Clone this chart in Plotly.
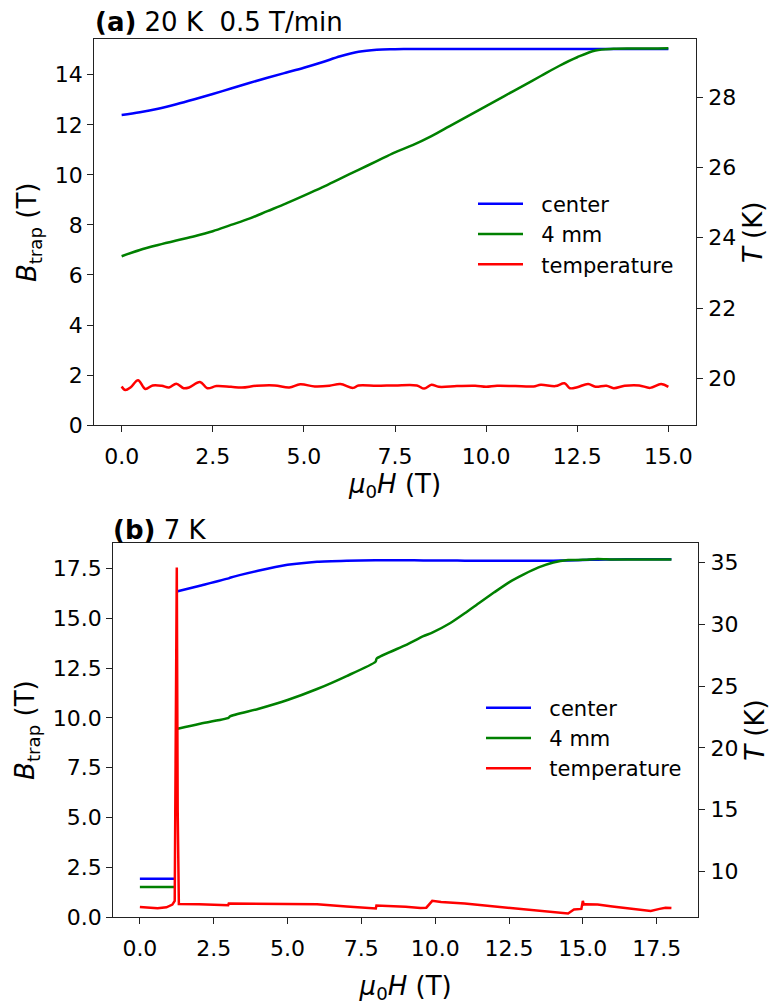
import plotly.graph_objects as go

# ---------------- Panel (a): 20 K, 0.5 T/min ----------------
a_field = [0, 0.5, 1, 1.5, 2, 2.5, 3, 3.5, 4, 4.5, 5, 5.5, 6, 6.5, 7, 7.5, 8, 8.5, 9,
           9.5, 10, 10.5, 11, 11.5, 12, 12.5, 13, 13.5, 14, 14.5, 15]
a_center = [12.39, 12.5, 12.64, 12.82, 13.02, 13.23, 13.45, 13.67, 13.88, 14.08, 14.28,
            14.5, 14.74, 14.92, 15.0, 15.02, 15.03, 15.03, 15.03, 15.03, 15.03, 15.03,
            15.03, 15.03, 15.03, 15.03, 15.03, 15.03, 15.03, 15.03, 15.03]
a_4mm = [6.75, 7.0, 7.2, 7.38, 7.55, 7.75, 8.0, 8.25, 8.55, 8.85, 9.17, 9.5, 9.85, 10.2,
         10.55, 10.9, 11.2, 11.55, 11.95, 12.35, 12.75, 13.15, 13.55, 13.95, 14.35, 14.7,
         14.97, 15.04, 15.05, 15.05, 15.06]
a_temp_field = [0, 0.1, 0.25, 0.45, 0.65, 0.85, 1.1, 1.3, 1.5, 1.7, 1.85, 2.15, 2.35, 2.6,
                3.0, 3.3, 3.7, 4.2, 4.6, 4.9, 5.3, 5.7, 6.0, 6.35, 6.5, 7.0, 7.5, 8.1, 8.3,
                8.5, 8.7, 9.2, 9.7, 10.0, 10.3, 10.8, 11.3, 11.5, 11.9, 12.15, 12.3, 12.5,
                12.8, 13.0, 13.3, 13.5, 13.8, 14.2, 14.5, 14.8, 15.0]
a_temp = [19.77, 19.67, 19.75, 19.95, 19.7, 19.8, 19.79, 19.74, 19.85, 19.72, 19.74, 19.9,
          19.72, 19.78, 19.76, 19.74, 19.79, 19.8, 19.74, 19.83, 19.77, 19.79, 19.84, 19.73,
          19.8, 19.79, 19.8, 19.8, 19.71, 19.82, 19.76, 19.78, 19.79, 19.76, 19.79, 19.78,
          19.77, 19.82, 19.78, 19.86, 19.72, 19.75, 19.84, 19.76, 19.79, 19.72, 19.79, 19.8,
          19.73, 19.84, 19.76]

# ---------------- Panel (b): 7 K ----------------
b_field = [0, 1.18, None, 1.28, 2, 3, 3.05, 4, 5, 6, 7, 7.98, 8.02, 9, 9.6, 9.9, 10.5, 11,
           11.5, 12, 12.5, 13, 13.5, 14, 14.5, 15, 15.5, 16, 17, 18]
b_center = [1.93, 1.93, None, 16.35, 16.62, 17.0, 17.03, 17.38, 17.68, 17.84, 17.89, 17.91,
            17.91, 17.91, 17.9, 17.9, 17.9, 17.89, 17.89, 17.89, 17.89, 17.89, 17.89, 17.89,
            17.9, 17.92, 17.94, 17.95, 17.96, 17.96]
b_4mm = [1.52, 1.52, None, 9.46, 9.7, 10.0, 10.08, 10.45, 10.9, 11.45, 12.1, 12.82, 12.98,
         13.65, 14.1, 14.28, 14.75, 15.25, 15.78, 16.3, 16.8, 17.2, 17.55, 17.8, 17.92,
         17.93, 17.97, 17.95, 17.95, 17.95]
b_temp_field = [0, 0.3, 0.6, 0.9, 1.1, 1.18, 1.22, 1.25, 1.28, 1.32, 2.0, 2.99, 3.01, 4.0,
                5.0, 6.0, 7.0, 7.99, 8.01, 8.5, 9.0, 9.5, 9.7, 9.9, 10.2, 11.0, 12.0, 13.0,
                14.0, 14.5, 14.7, 14.95, 15.0, 15.03, 15.1, 15.5, 16.0, 16.5, 17.0, 17.3,
                17.6, 17.8, 18.0]
b_temp = [7.1, 7.02, 7.0, 7.08, 7.3, 7.6, 20.0, 34.6, 15.0, 7.35, 7.32, 7.25, 7.38, 7.38,
          7.35, 7.32, 7.15, 6.98, 7.22, 7.2, 7.12, 7.02, 7.05, 7.6, 7.5, 7.38, 7.15, 6.95,
          6.7, 6.58, 6.9, 6.95, 7.6, 7.3, 7.32, 7.3, 7.15, 7.0, 6.85, 6.78, 6.95, 7.05, 7.02]

series_names = ["center", "4 mm", "temperature"]
series_colors = ["#0000ff", "#008000", "#ff0000"]

a_xticks = [0, 2.5, 5, 7.5, 10, 12.5, 15]
a_yticks = [0, 2, 4, 6, 8, 10, 12, 14]
a_y2ticks = [20, 22, 24, 26, 28]
b_xticks = [0, 2.5, 5, 7.5, 10, 12.5, 15, 17.5]
b_yticks = [0, 2.5, 5, 7.5, 10, 12.5, 15, 17.5]
b_y2ticks = [10, 15, 20, 25, 30, 35]

W, H = 774, 1006
FONT = "DejaVu Sans"
LW = 2.5
PAD = "\u00a0\u00a0"  # gap between legend line and legend label

fig = go.Figure()

# panel a
fig.add_trace(go.Scatter(x=a_field, y=a_center, name=PAD + series_names[0], mode="lines",
                         line=dict(color=series_colors[0], width=LW, shape="spline"),
                         xaxis="x", yaxis="y", legend="legend", legendgroup="a1"))
fig.add_trace(go.Scatter(x=a_field, y=a_4mm, name=PAD + series_names[1], mode="lines",
                         line=dict(color=series_colors[1], width=LW, shape="spline"),
                         xaxis="x", yaxis="y", legend="legend", legendgroup="a2"))
fig.add_trace(go.Scatter(x=a_temp_field, y=a_temp, name=PAD + series_names[2], mode="lines",
                         line=dict(color=series_colors[2], width=LW, shape="spline"),
                         xaxis="x", yaxis="y2", legend="legend", legendgroup="a3"))
# panel b
fig.add_trace(go.Scatter(x=b_field, y=b_center, name=PAD + series_names[0], mode="lines",
                         line=dict(color=series_colors[0], width=LW, shape="spline",
                                   smoothing=0.6),
                         xaxis="x2", yaxis="y3", legend="legend2", legendgroup="b1"))
fig.add_trace(go.Scatter(x=b_field, y=b_4mm, name=PAD + series_names[1], mode="lines",
                         line=dict(color=series_colors[1], width=LW, shape="spline",
                                   smoothing=0.6),
                         xaxis="x2", yaxis="y3", legend="legend2", legendgroup="b2"))
fig.add_trace(go.Scatter(x=b_temp_field, y=b_temp, name=PAD + series_names[2], mode="lines",
                         line=dict(color=series_colors[2], width=LW),
                         xaxis="x2", yaxis="y4", legend="legend2", legendgroup="b3"))

def px_x(p):
    return p / W

def px_y(p):
    return 1 - p / H

axis_common = dict(showgrid=False, zeroline=False, showline=True, linecolor="#222222",
                   linewidth=1.3, ticks="outside", ticklen=6, tickwidth=1.3,
                   tickcolor="#222222",
                   tickfont=dict(family=FONT, size=22, color="black"))
title_font = dict(family=FONT, size=26, color="black")

fig.update_layout(
    width=W, height=H,
    margin=dict(l=0, r=0, t=0, b=0),
    paper_bgcolor="white", plot_bgcolor="white",
    font=dict(family=FONT, color="black"),
    xaxis=dict(domain=[px_x(94.3), px_x(695.7)], anchor="y", range=[-0.75, 15.75],
               tickvals=a_xticks, tickformat=".1f", mirror=True, ticklabelstandoff=5,
               title=dict(text="<i>μ</i><sub>0</sub><i>H</i> (T)", font=title_font, standoff=4),
               **axis_common),
    yaxis=dict(domain=[px_y(430.7), px_y(40)], anchor="x", range=[0, 15.41],
               tickvals=a_yticks, ticklabelstandoff=0,
               title=dict(text="<i>B</i><sub>trap</sub> (T)", font=title_font, standoff=10),
               **axis_common),
    yaxis2=dict(overlaying="y", side="right", anchor="x", range=[18.67, 29.64],
                tickvals=a_y2ticks, ticklabelstandoff=1,
                title=dict(text="<i>T</i> (K)", font=title_font, standoff=8),
                **axis_common),
    xaxis2=dict(domain=[px_x(113.3), px_x(698)], anchor="y3", range=[-0.9, 18.9],
                tickvals=b_xticks, tickformat=".1f", mirror=True, ticklabelstandoff=5,
                title=dict(text="<i>μ</i><sub>0</sub><i>H</i> (T)", font=title_font, standoff=16),
                **axis_common),
    yaxis3=dict(domain=[px_y(929.3), px_y(550)], anchor="x2", range=[0, 18.78],
                tickvals=b_yticks, tickformat=".1f", ticklabelstandoff=0,
                title=dict(text="<i>B</i><sub>trap</sub> (T)", font=title_font, standoff=10),
                **axis_common),
    yaxis4=dict(overlaying="y3", side="right", anchor="x2", range=[6.27, 36.6],
                tickvals=b_y2ticks, ticklabelstandoff=1,
                title=dict(text="<i>T</i> (K)", font=title_font, standoff=8),
                **axis_common),
    legend=dict(x=px_x(473), y=px_y(186), xanchor="left", yanchor="top",
                bgcolor="rgba(255,255,255,0)", borderwidth=0, itemwidth=45,
                font=dict(family=FONT, size=21, color="black"),
                tracegroupgap=4, traceorder="normal"),
    legend2=dict(x=px_x(481), y=px_y(696.5), xanchor="left", yanchor="top",
                 bgcolor="rgba(255,255,255,0)", borderwidth=0, itemwidth=45,
                 font=dict(family=FONT, size=21, color="black"),
                 tracegroupgap=4, traceorder="normal"),
    showlegend=True,
)

fig.add_annotation(text="<b>(a)</b> 20 K\u00a0\u00a00.5 T/min", xref="paper", yref="paper",
                   x=px_x(93), y=px_y(40), xanchor="left", yanchor="bottom", showarrow=False,
                   font=dict(family=FONT, size=26, color="black"))
fig.add_annotation(text="<b>(b)</b> 7 K", xref="paper", yref="paper",
                   x=px_x(111), y=px_y(554.5), xanchor="left", yanchor="bottom", showarrow=False,
                   font=dict(family=FONT, size=26, color="black"))

fig.write_html("out.html", config={"displayModeBar": False},
               post_script="document.body.style.margin='0px';")
